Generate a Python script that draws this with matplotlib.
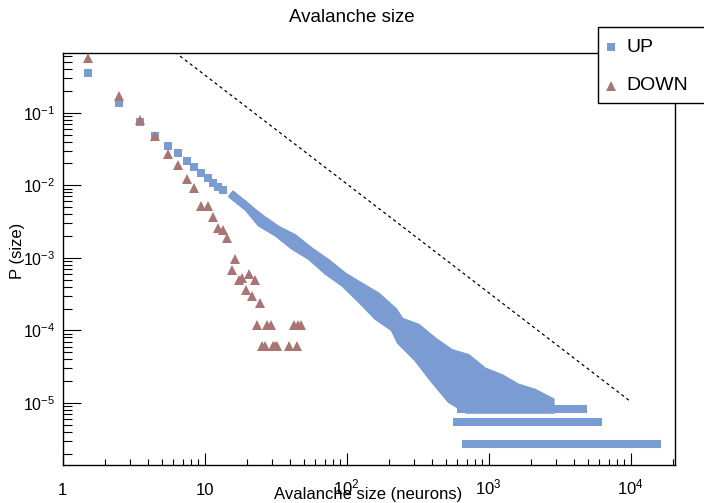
import matplotlib
matplotlib.use("Agg")
import matplotlib.pyplot as plt
from matplotlib.lines import Line2D
from matplotlib.patches import Rectangle

plt.rcParams['font.family'] = ['Liberation Sans', 'DejaVu Sans']
plt.rcParams['mathtext.fontset'] = 'custom'
plt.rcParams['mathtext.rm'] = 'Liberation Sans'
plt.rcParams['mathtext.it'] = 'Liberation Sans:italic'
plt.rcParams['mathtext.default'] = 'regular'

# UP: separate markers at small sizes (bin centres)
up_x = [1.5, 2.5, 3.5, 4.5, 5.5, 6.5, 7.5, 8.5, 9.5, 10.5, 11.5, 12.5, 13.5]
up_y = [0.356, 0.135, 0.075, 0.048, 0.035, 0.028, 0.0218, 0.018, 0.0146,
        0.0125, 0.0107, 0.0095, 0.0085]

# UP: dense part, top / bottom of the marker cloud
band_x = [15.1, 19.8, 24.6, 32.3, 42.2, 55.3, 72.6, 95.0, 124.5, 163, 214,
          238, 312, 409, 536, 702, 919, 1205, 1580, 2068, 2711]
band_hi = [7.8e-3, 5.1e-3, 3.62e-3, 2.5e-3, 1.92e-3, 1.26e-3, 8.7e-4, 5.69e-4,
           4.14e-4, 3.02e-4, 1.87e-4, 1.36e-4, 1.12e-4, 7.24e-5, 5.01e-5,
           4.28e-5, 2.79e-5, 2.27e-5, 1.67e-5, 1.42e-5, 1.08e-5]
band_lo = [7.8e-3, 5.1e-3, 3.05e-3, 2.22e-3, 1.46e-3, 1.06e-3, 6.6e-4, 4.55e-4,
           2.72e-4, 1.58e-4, 1.09e-4, 7.17e-5, 4.22e-5, 2.13e-5, 1.13e-5,
           8.2e-6, 8.2e-6, 8.2e-6, 8.2e-6, 8.2e-6, 8.2e-6]

# UP: tail, rows of triple / double / single counts
tail_y = [8.2e-6, 5.47e-6, 2.73e-6]
tail_start = [637, 597, 691]
tail_end = [4607, 5875, 15370]

# DOWN
down_x = [1.5, 2.5, 3.5, 4.5, 5.5, 6.5, 7.5, 8.5, 9.5, 10.5, 11.5, 12.5, 13.5,
          14.5, 15.5, 16.5, 17.5, 18.5, 19.5, 20.5, 21.5, 22.5, 23.5, 24.5,
          25.5, 26.5, 27.5, 29.5, 30.5, 31.5, 32.5, 39.5, 42.5, 44.5, 45.5, 47.5]
down_y = [0.56, 0.17, 0.079, 0.047, 0.0267, 0.0188, 0.0121, 0.0091, 0.0051,
          0.0051, 0.0036, 0.0026, 0.0024, 0.0019, 6.7e-4, 9.5e-4, 4.9e-4,
          5.3e-4, 3.6e-4, 6.0e-4, 3.0e-4, 4.9e-4, 1.2e-4, 2.4e-4,
          6.1e-5, 6.1e-5, 1.2e-4, 1.2e-4, 6.1e-5, 6.1e-5, 6.1e-5, 6.1e-5,
          1.2e-4, 6.1e-5, 1.2e-4, 1.2e-4]

# reference power law (dashed)
ref_x = [1, 1e4]
ref_y = [10.5, 1.05e-5]

xticks = [1, 10, 100, 1000, 10000]
xticklabels = ['1', '10', '$10^{2}$', '$10^{3}$', '$10^{4}$']
yticks = [1e-5, 1e-4, 1e-3, 1e-2, 1e-1]
yticklabels = ['$10^{-5}$', '$10^{-4}$', '$10^{-3}$', '$10^{-2}$', '$10^{-1}$']
legend_labels = ['UP', 'DOWN']

blue = '#7b9bd3'
brown = '#a87474'

W, H = 704, 503
fig = plt.figure(figsize=(W/100, H/100), dpi=100)
ax = fig.add_axes([62.5/W, 38/H, 612.5/W, 412.3/H])
ax.set_xscale('log')
ax.set_yscale('log')

ax.fill_between(band_x, band_lo, band_hi, facecolor=blue, edgecolor=blue,
                linewidth=5.8, joinstyle='miter', zorder=2)
for y, s, e in zip(tail_y, tail_start, tail_end):
    ax.plot([s, e], [y, y], color=blue, lw=5.8, solid_capstyle='projecting', zorder=2)
ax.plot(up_x, up_y, 's', color=blue, ms=6, mew=0, zorder=3)
ax.plot(down_x, down_y, '^', color=brown, ms=6.5, mew=0, zorder=4)
ax.plot(ref_x, ref_y, color='black', lw=0.9, linestyle=(0, (2.5, 2.5)), zorder=5)

ax.set_xlim(1, 10**4.313)
ax.set_ylim(10**-5.854, 10**-0.174)

ax.tick_params(which='both', direction='in', top=False, right=False)
ax.tick_params(axis='x', which='major', length=9, width=0.8, pad=21.5, labelsize=12)
ax.tick_params(axis='x', which='minor', length=4.5, width=0.8)
ax.tick_params(axis='y', which='major', length=13, width=0.8, pad=5.5, labelsize=11.5)
ax.tick_params(axis='y', which='minor', length=6.6, width=0.8)
ax.set_xticks(xticks, labels=xticklabels, va='baseline')
ax.set_yticks(yticks, labels=yticklabels)
for s in ax.spines.values():
    s.set_linewidth(1.0)

ax.set_xlabel('Avalanche size (neurons)', fontsize=12)
ax.xaxis.set_label_coords(0.499, -0.053)
ax.set_ylabel('P (size)', fontsize=12)
ax.yaxis.set_label_coords(-0.062, 0.519)

fig.text(0.5, 1 - 18/H, 'Avalanche size', ha='center', va='center', fontsize=13.5)

# legend box in the ROOT style, sticking out of the top right corner
fig.add_artist(Rectangle((598/W, 1 - 103/H), 120/W, 76/H, transform=fig.transFigure,
                         facecolor='white', edgecolor='black', lw=1.0, zorder=10))
rows_y = [47, 86]
styles = [dict(marker='s', color=blue, ms=6), dict(marker='^', color=brown, ms=6.5)]
for lab, ry, st in zip(legend_labels, rows_y, styles):
    fig.add_artist(Line2D([611/W], [1 - ry/H], ls='', mew=0, transform=fig.transFigure,
                          zorder=11, **st))
    fig.text(626/W, 1 - ry/H, lab, ha='left', va='center', fontsize=14, zorder=11)

fig.savefig('out.png', dpi=100)
